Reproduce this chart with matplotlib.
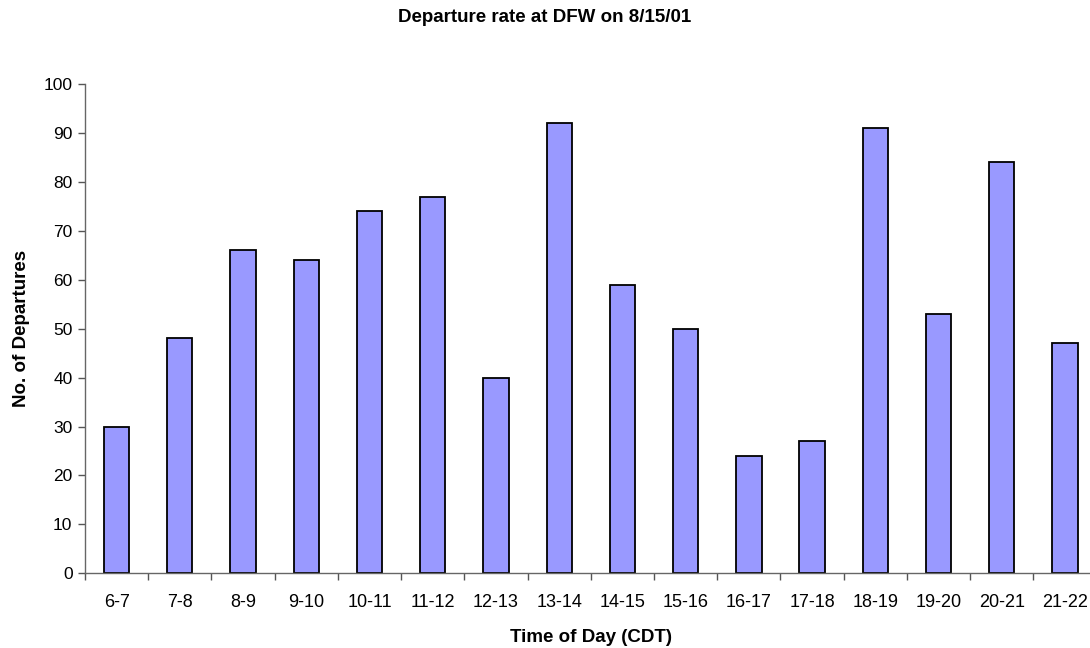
import matplotlib
matplotlib.use('Agg')
import numpy as np
import matplotlib.pyplot as plt

# hourly departure counts at DFW, 8/15/01
hours = ['6-7', '7-8', '8-9', '9-10', '10-11', '11-12', '12-13', '13-14',
         '14-15', '15-16', '16-17', '17-18', '18-19', '19-20', '20-21', '21-22']
departures = [30, 48, 66, 64, 74, 77, 40, 92, 59, 50, 24, 27, 91, 53, 84, 47]

plt.rcParams['font.family'] = ['Liberation Sans', 'DejaVu Sans']

fig = plt.figure(figsize=(10.9, 6.48), dpi=100, facecolor='white')
# plot area runs slightly past the right edge, as in the original
ax = fig.add_axes([85 / 1090, (648 - 573.3) / 648,
                   (1096.6 - 85) / 1090, (573.3 - 84) / 648])

x = np.arange(len(hours))
ax.bar(x, departures, width=0.4, color='#9999ff', edgecolor='black',
       linewidth=1.3, zorder=2)

ax.set_xlim(-0.5, len(hours) - 0.5)
ax.set_ylim(0, 100)
ax.set_yticks(range(0, 101, 10))
ax.set_xticks(x)
ax.set_xticklabels(hours)
# ticks between categories, labels centred under bars
ax.set_xticks(np.arange(-0.5, len(hours), 1), minor=True)
ax.tick_params(axis='x', which='major', length=0, pad=15, labelsize=13)
ax.tick_params(axis='x', which='minor', length=5, width=1, color='#555555',
               direction='out')
ax.tick_params(axis='y', length=5, width=1, color='#555555', labelsize=12.5,
               pad=4)

for side in ('top', 'right'):
    ax.spines[side].set_visible(False)
for side in ('left', 'bottom'):
    ax.spines[side].set_color('#666666')
    ax.spines[side].set_linewidth(1.0)

ax.set_ylabel('No. of Departures', fontsize=13.5, fontweight='bold', labelpad=10)
ax.set_xlabel('Time of Day (CDT)', fontsize=13.5, fontweight='bold', labelpad=13)
fig.text(0.5, 1 - 18 / 648, 'Departure rate at DFW on 8/15/01',
         ha='center', va='center', fontsize=13.5, fontweight='bold')

plt.savefig('out.png', dpi=100, facecolor='white')
plt.close()
